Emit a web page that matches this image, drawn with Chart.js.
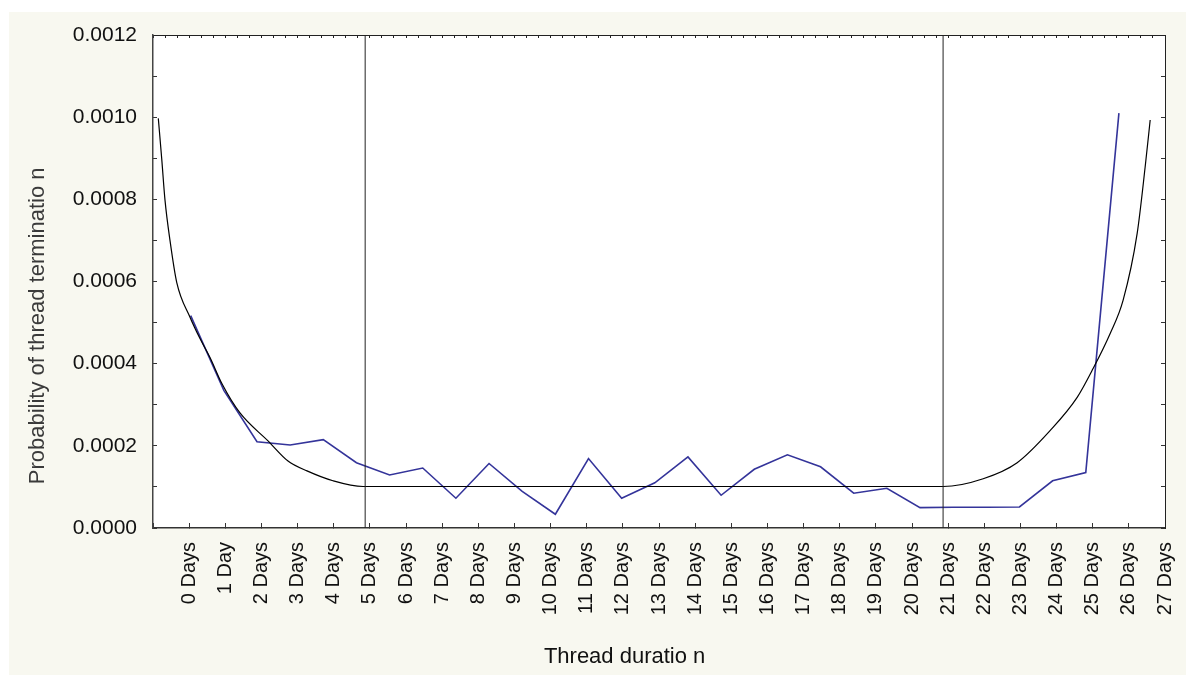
<!DOCTYPE html>
<html>
<head>
<meta charset="utf-8">
<script src="https://cdn.jsdelivr.net/npm/chart.js@4.4.1/dist/chart.umd.min.js"></script>
<style>
  html, body { margin: 0; padding: 0; background: #ffffff; }
  #paper { position: absolute; left: 9px; top: 12px; width: 1177px; height: 663px; background: #f8f8f0; }
  #wrap { position: absolute; left: 0; top: 0; width: 1186px; height: 675px; }
  canvas { display: block; }
</style>
</head>
<body>
<div id="paper"></div>
<div id="wrap"><canvas id="c" width="1186" height="675"></canvas></div>
<script>
// ---- data ----
const dayLabels = ['0 Days','1 Day','2 Days','3 Days','4 Days','5 Days','6 Days','7 Days','8 Days','9 Days',
  '10 Days','11 Days','12 Days','13 Days','14 Days','15 Days','16 Days','17 Days','18 Days','19 Days',
  '20 Days','21 Days','22 Days','23 Days','24 Days','25 Days','26 Days','27 Days'];

// observed probability of termination (blue), one value per bin
const blueValues = [0.000517, 0.000335, 0.000210, 0.000202, 0.000215, 0.000159, 0.000129, 0.000146,
  0.0000724, 0.000157, 0.000089, 0.0000334, 0.000169, 0.0000724, 0.000110, 0.000173, 0.0000797,
  0.000143, 0.000178, 0.000149, 0.0000846, 0.0000968, 0.0000495, 0.0000505, 0.0000505, 0.0000512,
  0.000115, 0.000135, 0.00101];
const blueAxisMin = -1.137;
const blueAxisMax = 29.39;

// fitted bathtub curve (black), read at these durations (days)
const curveDays = [-0.853, -0.759, -0.668, -0.530, -0.344, 0.024, 0.300, 0.577, 0.909, 1.407, 2.182,
  2.735, 3.261, 3.980, 4.811, 20.86, 21.97, 22.91, 23.82, 24.57, 25.01, 25.48, 25.84, 26.23, 26.45, 26.59];
const curveProb = [0.000997, 0.000899, 0.000798, 0.000700, 0.000598, 0.000513, 0.000461, 0.000415,
  0.000351, 0.000280, 0.000212, 0.000163, 0.000139, 0.000115, 0.000101, 0.000101, 0.000120, 0.000159,
  0.000237, 0.000318, 0.000388, 0.000473, 0.000554, 0.000717, 0.000878, 0.000993];

// vertical reference lines (days)
const markerDays = [4.87, 20.86];

const yMin = 0, yMax = 0.0012, yStep = 0.0001;
const xMin = -1, xMax = 27;
const xTitle = 'Thread duratio n';
const yTitle = 'Probability of thread terminatio n';

// ---- build ----
const FONT = '"Liberation Sans", Arial, sans-serif';

const datasets = [];
markerDays.forEach(d => {
  datasets.push({
    data: [{x: d, y: yMin}, {x: d, y: yMax}],
    xAxisID: 'x', yAxisID: 'y',
    borderColor: '#222', borderWidth: 1, pointRadius: 0, tension: 0, fill: false
  });
});
datasets.push({
  data: curveDays.map((d, i) => ({x: d, y: curveProb[i]})),
  xAxisID: 'x', yAxisID: 'y',
  borderColor: '#000', borderWidth: 1.2, pointRadius: 0,
  cubicInterpolationMode: 'monotone', fill: false
});
datasets.push({
  data: blueValues.map((v, i) => ({x: i, y: v})),
  xAxisID: 'xb', yAxisID: 'y',
  borderColor: '#34349a', borderWidth: 1.6, pointRadius: 0, tension: 0, fill: false
});

const paperPlugin = {
  id: 'plotPaper',
  beforeDraw(chart) {
    const {ctx, chartArea: a} = chart;
    ctx.save();
    ctx.fillStyle = '#ffffff';
    ctx.fillRect(a.left, a.top, a.right - a.left, a.bottom - a.top);
    ctx.restore();
  }
};
const titlePlugin = {
  id: 'axisTitles',
  afterDraw(chart) {
    const {ctx, chartArea: a} = chart;
    ctx.save();
    ctx.font = '22px ' + FONT;
    ctx.textAlign = 'center';
    ctx.textBaseline = 'middle';
    ctx.fillStyle = '#111';
    ctx.fillText(xTitle, a.left + (a.right - a.left) * 0.466, 657);
    ctx.translate(38, a.top + (a.bottom - a.top) * 0.59);
    ctx.rotate(-Math.PI / 2);
    ctx.fillStyle = '#3a3a3a';
    ctx.fillText(yTitle, 0, 0);
    ctx.restore();
  }
};

const noPad = s => { s.paddingLeft = 0; s.paddingRight = 0; s.paddingTop = 0; s.paddingBottom = 0; };

new Chart(document.getElementById('c'), {
  type: 'line',
  data: { datasets },
  plugins: [paperPlugin, titlePlugin],
  options: {
    responsive: false,
    animation: false,
    devicePixelRatio: 1,
    layout: { padding: 0 },
    plugins: { legend: { display: false }, tooltip: { enabled: false }, title: { display: false } },
    scales: {
      x: {
        type: 'linear', position: 'bottom', min: xMin, max: xMax,
        afterFit: s => { s.height = 147; noPad(s); },
        ticks: {
          stepSize: 1, autoSkip: false, minRotation: 90, maxRotation: 90, padding: 19,
          color: '#111', font: { family: FONT, size: 20 },
          callback: v => (Number.isInteger(v) && v >= 0 && v < dayLabels.length) ? dayLabels[v] : ''
        },
        grid: { drawOnChartArea: false, tickLength: -5, color: '#333', tickWidth: 1 },
        border: { display: true, color: '#333', width: 1.5 }
      },
      xTop: {
        type: 'linear', position: 'top', min: xMin, max: xMax,
        afterFit: s => { s.height = 35; noPad(s); },
        ticks: { display: false, stepSize: 1 / 3 },
        grid: { drawOnChartArea: false, tickLength: -3, color: '#222' },
        border: { display: true, color: '#222', width: 1 }
      },
      xb: {
        type: 'linear', display: false, min: blueAxisMin, max: blueAxisMax
      },
      y: {
        type: 'linear', position: 'left', min: yMin, max: yMax,
        afterFit: s => { s.width = 153; noPad(s); },
        ticks: {
          stepSize: yStep, padding: 20, color: '#111', font: { family: FONT, size: 21 },
          callback: (v, i) => (i % 2 === 0) ? Number(v).toFixed(4) : ''
        },
        grid: { drawOnChartArea: false, tickLength: -4, color: '#333' },
        border: { display: true, color: '#444', width: 1.5 }
      },
      yRight: {
        type: 'linear', position: 'right', min: yMin, max: yMax,
        afterFit: s => { s.width = 21; noPad(s); },
        ticks: { display: false, stepSize: yStep },
        grid: { drawOnChartArea: false, tickLength: -4, color: '#333' },
        border: { display: true, color: '#222', width: 1 }
      }
    }
  }
});
</script>
</body>
</html>
